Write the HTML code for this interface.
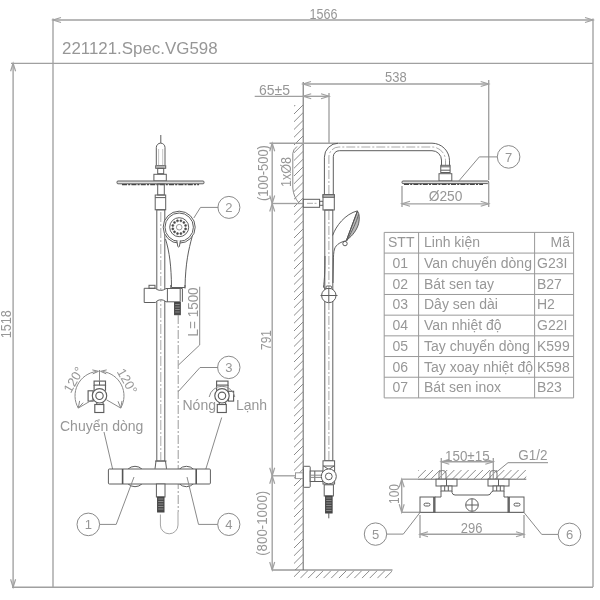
<!DOCTYPE html>
<html><head><meta charset="utf-8"><style>
html,body{margin:0;padding:0;background:#fff;width:600px;height:600px;overflow:hidden}
svg{display:block;will-change:transform}
text{font-family:"Liberation Sans", sans-serif}
</style></head><body>
<svg width="600" height="600" viewBox="0 0 600 600">
<rect width="600" height="600" fill="#fff"/>
<line x1="53.00" y1="18.50" x2="53.00" y2="587.00" stroke="#a0a0a0" stroke-width="1.35" />
<line x1="593.00" y1="18.50" x2="593.00" y2="587.00" stroke="#a0a0a0" stroke-width="1.35" />
<line x1="11.00" y1="63.30" x2="593.00" y2="63.30" stroke="#a0a0a0" stroke-width="1.35" />
<line x1="12.00" y1="587.20" x2="593.00" y2="587.20" stroke="#a0a0a0" stroke-width="1.35" />
<line x1="53.00" y1="20.00" x2="593.00" y2="20.00" stroke="#a0a0a0" stroke-width="1.35" />
<polyline points="61.00,17.50 53.00,20.00 61.00,22.50" stroke="#a0a0a0" stroke-width="1.2" fill="none" />
<polyline points="585.00,22.50 593.00,20.00 585.00,17.50" stroke="#a0a0a0" stroke-width="1.2" fill="none" />
<line x1="13.10" y1="63.30" x2="13.10" y2="587.20" stroke="#a0a0a0" stroke-width="1.35" />
<polyline points="15.60,71.30 13.10,63.30 10.60,71.30" stroke="#a0a0a0" stroke-width="1.2" fill="none" />
<polyline points="10.60,579.20 13.10,587.20 15.60,579.20" stroke="#a0a0a0" stroke-width="1.2" fill="none" />
<text x="323.50" y="18.50" font-size="14.5" text-anchor="middle" fill="#979797"  textLength="28" lengthAdjust="spacingAndGlyphs">1566</text>
<text x="11.50" y="324.20" font-size="14.5" text-anchor="middle" fill="#979797" transform="rotate(-90 11.50 324.20)"  textLength="28" lengthAdjust="spacingAndGlyphs">1518</text>
<text x="62.00" y="53.50" font-size="16.9" text-anchor="start" fill="#979797" >221121.Spec.VG598</text>
<line x1="160.80" y1="135.00" x2="160.80" y2="143.00" stroke="#5e5e5e" stroke-width="1" />
<path d="M156.3,165 L156.3,147.5 A4.35,4.35 0 0 1 165,147.5 L165,165" stroke="#5e5e5e" stroke-width="1" fill="none" />
<line x1="158.60" y1="149.00" x2="158.60" y2="165.00" stroke="#c4c4c4" stroke-width="1" />
<line x1="162.70" y1="149.00" x2="162.70" y2="165.00" stroke="#c4c4c4" stroke-width="1" />
<rect x="155.70" y="165.70" width="10.00" height="2.60" rx="0" stroke="#5e5e5e" stroke-width="1" fill="#ccc" />
<rect x="157.70" y="168.30" width="6.00" height="5.40" rx="0" stroke="#5e5e5e" stroke-width="1" fill="none" />
<rect x="153.90" y="174.30" width="12.40" height="6.70" rx="0" stroke="#5e5e5e" stroke-width="1" fill="none" />
<rect x="117.00" y="181.00" width="87.00" height="2.80" rx="1" stroke="#5e5e5e" stroke-width="1" fill="#e0e0e0" />
<line x1="122.00" y1="184.60" x2="199.00" y2="184.60" stroke="#444" stroke-width="1.3" stroke-dasharray="5 1.2 2 1.2"/>
<rect x="157.70" y="184.00" width="6.60" height="11.00" rx="0" stroke="#5e5e5e" stroke-width="1" fill="none" />
<rect x="155.20" y="195.00" width="10.50" height="14.80" rx="0" stroke="#5e5e5e" stroke-width="1" fill="none" />
<line x1="155.20" y1="197.60" x2="165.70" y2="197.60" stroke="#5e5e5e" stroke-width="1" />
<rect x="156.80" y="209.80" width="8.00" height="251.20" rx="0" stroke="#5e5e5e" stroke-width="1" fill="none" />
<line x1="160.80" y1="212.00" x2="160.80" y2="460.00" stroke="#aaa" stroke-width="1" stroke-dasharray="10 2 2 2"/>
<path d="M165.5,239 C169.5,252 171.3,266 171.5,287.5" stroke="#5e5e5e" stroke-width="1" fill="none" />
<path d="M192.3,236 C188.5,250 185.5,263 185,287.5" stroke="#5e5e5e" stroke-width="1" fill="none" />
<line x1="171.50" y1="287.50" x2="185.00" y2="287.50" stroke="#5e5e5e" stroke-width="1" />
<circle cx="179.20" cy="227.20" r="16.00" stroke="#5e5e5e" stroke-width="1" fill="#fff" />
<circle cx="179.20" cy="227.20" r="14.20" stroke="#5e5e5e" stroke-width="1" fill="none" />
<circle cx="179.20" cy="227.20" r="9.50" stroke="#5e5e5e" stroke-width="1" fill="none" />
<circle cx="185.58" cy="228.91" r="1.05" stroke="#555" stroke-width="0.6" fill="#444" />
<circle cx="183.87" cy="231.87" r="1.05" stroke="#555" stroke-width="0.6" fill="#444" />
<circle cx="180.91" cy="233.58" r="1.05" stroke="#555" stroke-width="0.6" fill="#444" />
<circle cx="177.49" cy="233.58" r="1.05" stroke="#555" stroke-width="0.6" fill="#444" />
<circle cx="174.53" cy="231.87" r="1.05" stroke="#555" stroke-width="0.6" fill="#444" />
<circle cx="172.82" cy="228.91" r="1.05" stroke="#555" stroke-width="0.6" fill="#444" />
<circle cx="172.82" cy="225.49" r="1.05" stroke="#555" stroke-width="0.6" fill="#444" />
<circle cx="174.53" cy="222.53" r="1.05" stroke="#555" stroke-width="0.6" fill="#444" />
<circle cx="177.49" cy="220.82" r="1.05" stroke="#555" stroke-width="0.6" fill="#444" />
<circle cx="180.91" cy="220.82" r="1.05" stroke="#555" stroke-width="0.6" fill="#444" />
<circle cx="183.87" cy="222.53" r="1.05" stroke="#555" stroke-width="0.6" fill="#444" />
<circle cx="185.58" cy="225.49" r="1.05" stroke="#555" stroke-width="0.6" fill="#444" />
<circle cx="179.20" cy="227.20" r="2.80" stroke="#999" stroke-width="1" fill="none" />
<path d="M176.8,240.5 L177.8,246.5 Q178.6,247.5 179.4,246.5 L180.4,240.5" stroke="#5e5e5e" stroke-width="1" fill="#fff" />
<path d="M193.8,218 L200.5,207.4 L218.4,207.4" stroke="#8a8a8a" stroke-width="1" fill="none" />
<circle cx="228.90" cy="207.40" r="11.00" stroke="#8a8a8a" stroke-width="1" fill="none" />
<text x="228.90" y="212.00" font-size="13" text-anchor="middle" fill="#979797" >2</text>
<path d="M144.2,288.3 L155.5,288.3 C158,291 163,291 166,288.5 L180.2,288.5 L180.2,301.8 L166,301.8 C163,299 158,299 155.5,302.5 L144.2,302.5 Z" stroke="#5e5e5e" stroke-width="1" fill="#fff" />
<rect x="149.00" y="285.30" width="6.00" height="3.00" rx="0" stroke="#5e5e5e" stroke-width="1" fill="none" />
<line x1="167.40" y1="288.50" x2="167.40" y2="301.80" stroke="#5e5e5e" stroke-width="1" />
<line x1="180.20" y1="288.50" x2="182.40" y2="288.50" stroke="#5e5e5e" stroke-width="1" />
<line x1="182.40" y1="288.50" x2="182.40" y2="301.80" stroke="#5e5e5e" stroke-width="1" />
<path d="M170.8,288.3 L170.8,285 M185,285 L185,288.5" stroke="#5e5e5e" stroke-width="1" fill="none" />
<rect x="174.60" y="302.50" width="5.70" height="12.20" rx="0" stroke="#444" stroke-width="1" fill="#4a4a4a" />
<line x1="175.20" y1="304.50" x2="179.70" y2="304.50" stroke="#9a9a9a" stroke-width="0.8" />
<line x1="175.20" y1="307.00" x2="179.70" y2="307.00" stroke="#9a9a9a" stroke-width="0.8" />
<line x1="175.20" y1="309.50" x2="179.70" y2="309.50" stroke="#9a9a9a" stroke-width="0.8" />
<line x1="175.20" y1="312.00" x2="179.70" y2="312.00" stroke="#9a9a9a" stroke-width="0.8" />
<path d="M178.2,315 L178.2,512" stroke="#9a9a9a" stroke-width="1" fill="none" stroke-dasharray="9 2 2 2"/>
<path d="M178,512 L178,525 A8.8,8.8 0 0 1 160.4,525 L160.4,514.5" stroke="#a5a5a5" stroke-width="1" fill="none" />
<path d="M199.7,286.7 L199.7,345 L178.5,365" stroke="#8a8a8a" stroke-width="1" fill="none" />
<text x="198.50" y="311.90" font-size="14.5" text-anchor="middle" fill="#979797" transform="rotate(-90 198.50 311.90)"  textLength="49" lengthAdjust="spacingAndGlyphs">L= 1500</text>
<path d="M178.2,391.7 L200,367.5 L218.2,367.5" stroke="#8a8a8a" stroke-width="1" fill="none" />
<circle cx="228.80" cy="367.40" r="11.20" stroke="#8a8a8a" stroke-width="1" fill="none" />
<text x="228.80" y="372.00" font-size="13" text-anchor="middle" fill="#979797" >3</text>
<rect x="94.10" y="381.10" width="11.40" height="4.00" rx="0" stroke="#5e5e5e" stroke-width="1.15" fill="#fff" />
<path d="M94.1,385.1 L94.1,390.8 M105.5,385.1 L105.5,390.8" stroke="#5e5e5e" stroke-width="1.15" fill="none" />
<rect x="88.10" y="390.80" width="5.00" height="10.30" rx="0" stroke="#5e5e5e" stroke-width="1.15" fill="#fff" />
<rect x="94.80" y="404.50" width="9.00" height="8.00" rx="0" stroke="#5e5e5e" stroke-width="1.15" fill="#fff" />
<line x1="96.80" y1="402.30" x2="96.80" y2="404.50" stroke="#5e5e5e" stroke-width="1.15" />
<line x1="103.10" y1="402.30" x2="103.10" y2="404.50" stroke="#5e5e5e" stroke-width="1.15" />
<circle cx="99.50" cy="395.80" r="7.20" stroke="#5e5e5e" stroke-width="1.15" fill="#fff" />
<circle cx="99.50" cy="395.80" r="3.70" stroke="#5e5e5e" stroke-width="1.15" fill="none" />
<rect x="216.60" y="381.10" width="11.40" height="4.00" rx="0" stroke="#5e5e5e" stroke-width="1.15" fill="#fff" />
<path d="M216.6,385.1 L216.6,390.8 M228,385.1 L228,390.8" stroke="#5e5e5e" stroke-width="1.15" fill="none" />
<rect x="228.40" y="391.30" width="5.20" height="9.80" rx="0" stroke="#5e5e5e" stroke-width="1.15" fill="#fff" />
<rect x="217.30" y="404.50" width="9.00" height="8.00" rx="0" stroke="#5e5e5e" stroke-width="1.15" fill="#fff" />
<line x1="219.30" y1="402.30" x2="219.30" y2="404.50" stroke="#5e5e5e" stroke-width="1.15" />
<line x1="225.60" y1="402.30" x2="225.60" y2="404.50" stroke="#5e5e5e" stroke-width="1.15" />
<circle cx="222.00" cy="395.80" r="7.20" stroke="#5e5e5e" stroke-width="1.15" fill="#fff" />
<circle cx="222.00" cy="395.80" r="3.70" stroke="#5e5e5e" stroke-width="1.15" fill="none" />
<line x1="99.50" y1="370.00" x2="99.50" y2="381.30" stroke="#8a8a8a" stroke-width="1" />
<line x1="99.50" y1="381.30" x2="99.50" y2="385.30" stroke="#5e5e5e" stroke-width="1" />
<path d="M78.28,408.05 A24.5,24.5 0 0 1 96.50,371.50" stroke="#8a8a8a" stroke-width="1" fill="none" />
<path d="M102.50,371.50 A24.5,24.5 0 0 1 120.72,408.05" stroke="#8a8a8a" stroke-width="1" fill="none" />
<polyline points="79.62,400.89 78.28,408.05 83.20,402.68" stroke="#8a8a8a" stroke-width="1" fill="none" />
<polyline points="118.03,401.28 120.72,408.05 122.01,400.89" stroke="#8a8a8a" stroke-width="1" fill="none" />
<polyline points="92.73,373.89 98.50,371.30 92.33,369.91" stroke="#8a8a8a" stroke-width="1" fill="none" />
<polyline points="106.67,369.91 100.50,371.30 106.27,373.89" stroke="#8a8a8a" stroke-width="1" fill="none" />
<line x1="92.50" y1="399.80" x2="78.28" y2="408.05" stroke="#8a8a8a" stroke-width="1" />
<line x1="106.50" y1="399.80" x2="120.72" y2="408.05" stroke="#8a8a8a" stroke-width="1" />
<text x="77.50" y="382.00" font-size="13" text-anchor="middle" fill="#979797" transform="rotate(-60 77.50 382.00)" >120°</text>
<text x="123.30" y="383.50" font-size="13" text-anchor="middle" fill="#979797" transform="rotate(60 123.30 383.50)" >120°</text>
<path d="M209.2,397 A13,13 0 0 1 234.8,397" stroke="#8a8a8a" stroke-width="1" fill="none" />
<text x="60.00" y="430.80" font-size="14" text-anchor="start" fill="#979797" >Chuyển dòng</text>
<text x="182.50" y="409.70" font-size="14" text-anchor="start" fill="#979797" >Nóng</text>
<text x="236.00" y="409.70" font-size="14" text-anchor="start" fill="#979797" >Lạnh</text>
<line x1="104.00" y1="432.00" x2="114.00" y2="475.00" stroke="#8a8a8a" stroke-width="1" />
<line x1="221.70" y1="417.50" x2="204.00" y2="475.00" stroke="#8a8a8a" stroke-width="1" />
<circle cx="135.00" cy="476.50" r="10.20" stroke="#5e5e5e" stroke-width="1" fill="#fff" />
<circle cx="186.40" cy="476.50" r="10.20" stroke="#5e5e5e" stroke-width="1" fill="#fff" />
<rect x="108.40" y="469.00" width="102.00" height="15.00" rx="1" stroke="#5e5e5e" stroke-width="1" fill="#fff" />
<line x1="122.60" y1="469.00" x2="122.60" y2="484.00" stroke="#555" stroke-width="1.6" />
<line x1="196.20" y1="469.00" x2="196.20" y2="484.00" stroke="#555" stroke-width="1.6" />
<path d="M156,461 L155,468.8 M165.5,461 L166.5,468.8" stroke="#5e5e5e" stroke-width="1" fill="none" />
<line x1="155.00" y1="461.00" x2="166.50" y2="461.00" stroke="#5e5e5e" stroke-width="1" />
<rect x="156.40" y="484.00" width="8.60" height="13.00" rx="0" stroke="#5e5e5e" stroke-width="1" fill="#fff" />
<rect x="157.60" y="497.00" width="6.40" height="15.00" rx="0" stroke="#444" stroke-width="1" fill="#4a4a4a" />
<line x1="158.20" y1="499.00" x2="163.40" y2="499.00" stroke="#9a9a9a" stroke-width="0.8" />
<line x1="158.20" y1="501.50" x2="163.40" y2="501.50" stroke="#9a9a9a" stroke-width="0.8" />
<line x1="158.20" y1="504.00" x2="163.40" y2="504.00" stroke="#9a9a9a" stroke-width="0.8" />
<line x1="158.20" y1="506.50" x2="163.40" y2="506.50" stroke="#9a9a9a" stroke-width="0.8" />
<line x1="158.20" y1="509.00" x2="163.40" y2="509.00" stroke="#9a9a9a" stroke-width="0.8" />
<path d="M134,477 L116.2,524.4 L99.6,524.4" stroke="#8a8a8a" stroke-width="1" fill="none" />
<circle cx="88.30" cy="524.40" r="11.30" stroke="#8a8a8a" stroke-width="1" fill="none" />
<text x="88.30" y="529.00" font-size="13" text-anchor="middle" fill="#979797" >1</text>
<path d="M187,477 L198.5,524.4 L217.7,524.4" stroke="#8a8a8a" stroke-width="1" fill="none" />
<circle cx="228.80" cy="524.40" r="11.10" stroke="#8a8a8a" stroke-width="1" fill="none" />
<text x="228.80" y="529.00" font-size="13" text-anchor="middle" fill="#979797" >4</text>
<line x1="303.20" y1="82.00" x2="303.20" y2="570.00" stroke="#666" stroke-width="1" />
<line x1="303.00" y1="84.00" x2="488.70" y2="84.00" stroke="#a0a0a0" stroke-width="1.35" />
<polyline points="311.00,81.50 303.00,84.00 311.00,86.50" stroke="#a0a0a0" stroke-width="1.2" fill="none" />
<polyline points="480.70,86.50 488.70,84.00 480.70,81.50" stroke="#a0a0a0" stroke-width="1.2" fill="none" />
<text x="395.90" y="82.40" font-size="14.5" text-anchor="middle" fill="#979797"  textLength="21.6" lengthAdjust="spacingAndGlyphs">538</text>
<line x1="488.70" y1="80.00" x2="488.70" y2="180.00" stroke="#a0a0a0" stroke-width="1.35" />
<line x1="254.70" y1="96.30" x2="303.20" y2="96.30" stroke="#a0a0a0" stroke-width="1.35" />
<line x1="303.20" y1="96.30" x2="329.00" y2="96.30" stroke="#a0a0a0" stroke-width="1.35" />
<polyline points="311.20,93.80 303.20,96.30 311.20,98.80" stroke="#a0a0a0" stroke-width="1.2" fill="none" />
<polyline points="321.00,98.80 329.00,96.30 321.00,93.80" stroke="#a0a0a0" stroke-width="1.2" fill="none" />
<line x1="329.00" y1="93.00" x2="329.00" y2="143.20" stroke="#a0a0a0" stroke-width="1.35" />
<text x="274.50" y="94.70" font-size="14.5" text-anchor="middle" fill="#979797"  textLength="31" lengthAdjust="spacingAndGlyphs">65±5</text>
<clipPath id="hc1"><rect x="294" y="105" width="9" height="465"/></clipPath><g clip-path="url(#hc1)">
<line x1="-177.50" y1="570.00" x2="287.50" y2="105.00" stroke="#8c8c8c" stroke-width="1"/>
<line x1="-169.75" y1="570.00" x2="295.25" y2="105.00" stroke="#8c8c8c" stroke-width="1"/>
<line x1="-162.00" y1="570.00" x2="303.00" y2="105.00" stroke="#8c8c8c" stroke-width="1"/>
<line x1="-154.25" y1="570.00" x2="310.75" y2="105.00" stroke="#8c8c8c" stroke-width="1"/>
<line x1="-146.50" y1="570.00" x2="318.50" y2="105.00" stroke="#8c8c8c" stroke-width="1"/>
<line x1="-138.75" y1="570.00" x2="326.25" y2="105.00" stroke="#8c8c8c" stroke-width="1"/>
<line x1="-131.00" y1="570.00" x2="334.00" y2="105.00" stroke="#8c8c8c" stroke-width="1"/>
<line x1="-123.25" y1="570.00" x2="341.75" y2="105.00" stroke="#8c8c8c" stroke-width="1"/>
<line x1="-115.50" y1="570.00" x2="349.50" y2="105.00" stroke="#8c8c8c" stroke-width="1"/>
<line x1="-107.75" y1="570.00" x2="357.25" y2="105.00" stroke="#8c8c8c" stroke-width="1"/>
<line x1="-100.00" y1="570.00" x2="365.00" y2="105.00" stroke="#8c8c8c" stroke-width="1"/>
<line x1="-92.25" y1="570.00" x2="372.75" y2="105.00" stroke="#8c8c8c" stroke-width="1"/>
<line x1="-84.50" y1="570.00" x2="380.50" y2="105.00" stroke="#8c8c8c" stroke-width="1"/>
<line x1="-76.75" y1="570.00" x2="388.25" y2="105.00" stroke="#8c8c8c" stroke-width="1"/>
<line x1="-69.00" y1="570.00" x2="396.00" y2="105.00" stroke="#8c8c8c" stroke-width="1"/>
<line x1="-61.25" y1="570.00" x2="403.75" y2="105.00" stroke="#8c8c8c" stroke-width="1"/>
<line x1="-53.50" y1="570.00" x2="411.50" y2="105.00" stroke="#8c8c8c" stroke-width="1"/>
<line x1="-45.75" y1="570.00" x2="419.25" y2="105.00" stroke="#8c8c8c" stroke-width="1"/>
<line x1="-38.00" y1="570.00" x2="427.00" y2="105.00" stroke="#8c8c8c" stroke-width="1"/>
<line x1="-30.25" y1="570.00" x2="434.75" y2="105.00" stroke="#8c8c8c" stroke-width="1"/>
<line x1="-22.50" y1="570.00" x2="442.50" y2="105.00" stroke="#8c8c8c" stroke-width="1"/>
<line x1="-14.75" y1="570.00" x2="450.25" y2="105.00" stroke="#8c8c8c" stroke-width="1"/>
<line x1="-7.00" y1="570.00" x2="458.00" y2="105.00" stroke="#8c8c8c" stroke-width="1"/>
<line x1="0.75" y1="570.00" x2="465.75" y2="105.00" stroke="#8c8c8c" stroke-width="1"/>
<line x1="8.50" y1="570.00" x2="473.50" y2="105.00" stroke="#8c8c8c" stroke-width="1"/>
<line x1="16.25" y1="570.00" x2="481.25" y2="105.00" stroke="#8c8c8c" stroke-width="1"/>
<line x1="24.00" y1="570.00" x2="489.00" y2="105.00" stroke="#8c8c8c" stroke-width="1"/>
<line x1="31.75" y1="570.00" x2="496.75" y2="105.00" stroke="#8c8c8c" stroke-width="1"/>
<line x1="39.50" y1="570.00" x2="504.50" y2="105.00" stroke="#8c8c8c" stroke-width="1"/>
<line x1="47.25" y1="570.00" x2="512.25" y2="105.00" stroke="#8c8c8c" stroke-width="1"/>
<line x1="55.00" y1="570.00" x2="520.00" y2="105.00" stroke="#8c8c8c" stroke-width="1"/>
<line x1="62.75" y1="570.00" x2="527.75" y2="105.00" stroke="#8c8c8c" stroke-width="1"/>
<line x1="70.50" y1="570.00" x2="535.50" y2="105.00" stroke="#8c8c8c" stroke-width="1"/>
<line x1="78.25" y1="570.00" x2="543.25" y2="105.00" stroke="#8c8c8c" stroke-width="1"/>
<line x1="86.00" y1="570.00" x2="551.00" y2="105.00" stroke="#8c8c8c" stroke-width="1"/>
<line x1="93.75" y1="570.00" x2="558.75" y2="105.00" stroke="#8c8c8c" stroke-width="1"/>
<line x1="101.50" y1="570.00" x2="566.50" y2="105.00" stroke="#8c8c8c" stroke-width="1"/>
<line x1="109.25" y1="570.00" x2="574.25" y2="105.00" stroke="#8c8c8c" stroke-width="1"/>
<line x1="117.00" y1="570.00" x2="582.00" y2="105.00" stroke="#8c8c8c" stroke-width="1"/>
<line x1="124.75" y1="570.00" x2="589.75" y2="105.00" stroke="#8c8c8c" stroke-width="1"/>
<line x1="132.50" y1="570.00" x2="597.50" y2="105.00" stroke="#8c8c8c" stroke-width="1"/>
<line x1="140.25" y1="570.00" x2="605.25" y2="105.00" stroke="#8c8c8c" stroke-width="1"/>
<line x1="148.00" y1="570.00" x2="613.00" y2="105.00" stroke="#8c8c8c" stroke-width="1"/>
<line x1="155.75" y1="570.00" x2="620.75" y2="105.00" stroke="#8c8c8c" stroke-width="1"/>
<line x1="163.50" y1="570.00" x2="628.50" y2="105.00" stroke="#8c8c8c" stroke-width="1"/>
<line x1="171.25" y1="570.00" x2="636.25" y2="105.00" stroke="#8c8c8c" stroke-width="1"/>
<line x1="179.00" y1="570.00" x2="644.00" y2="105.00" stroke="#8c8c8c" stroke-width="1"/>
<line x1="186.75" y1="570.00" x2="651.75" y2="105.00" stroke="#8c8c8c" stroke-width="1"/>
<line x1="194.50" y1="570.00" x2="659.50" y2="105.00" stroke="#8c8c8c" stroke-width="1"/>
<line x1="202.25" y1="570.00" x2="667.25" y2="105.00" stroke="#8c8c8c" stroke-width="1"/>
<line x1="210.00" y1="570.00" x2="675.00" y2="105.00" stroke="#8c8c8c" stroke-width="1"/>
<line x1="217.75" y1="570.00" x2="682.75" y2="105.00" stroke="#8c8c8c" stroke-width="1"/>
<line x1="225.50" y1="570.00" x2="690.50" y2="105.00" stroke="#8c8c8c" stroke-width="1"/>
<line x1="233.25" y1="570.00" x2="698.25" y2="105.00" stroke="#8c8c8c" stroke-width="1"/>
<line x1="241.00" y1="570.00" x2="706.00" y2="105.00" stroke="#8c8c8c" stroke-width="1"/>
<line x1="248.75" y1="570.00" x2="713.75" y2="105.00" stroke="#8c8c8c" stroke-width="1"/>
<line x1="256.50" y1="570.00" x2="721.50" y2="105.00" stroke="#8c8c8c" stroke-width="1"/>
<line x1="264.25" y1="570.00" x2="729.25" y2="105.00" stroke="#8c8c8c" stroke-width="1"/>
<line x1="272.00" y1="570.00" x2="737.00" y2="105.00" stroke="#8c8c8c" stroke-width="1"/>
<line x1="279.75" y1="570.00" x2="744.75" y2="105.00" stroke="#8c8c8c" stroke-width="1"/>
<line x1="287.50" y1="570.00" x2="752.50" y2="105.00" stroke="#8c8c8c" stroke-width="1"/>
<line x1="295.25" y1="570.00" x2="760.25" y2="105.00" stroke="#8c8c8c" stroke-width="1"/>
<line x1="303.00" y1="570.00" x2="768.00" y2="105.00" stroke="#8c8c8c" stroke-width="1"/>
<line x1="310.75" y1="570.00" x2="775.75" y2="105.00" stroke="#8c8c8c" stroke-width="1"/>
</g>
<line x1="272.00" y1="570.00" x2="392.50" y2="570.00" stroke="#666" stroke-width="1" />
<clipPath id="hc2"><rect x="294" y="570.5" width="98" height="7.7999999999999545"/></clipPath><g clip-path="url(#hc2)">
<line x1="284.80" y1="578.30" x2="292.60" y2="570.50" stroke="#8c8c8c" stroke-width="1"/>
<line x1="292.50" y1="578.30" x2="300.30" y2="570.50" stroke="#8c8c8c" stroke-width="1"/>
<line x1="300.20" y1="578.30" x2="308.00" y2="570.50" stroke="#8c8c8c" stroke-width="1"/>
<line x1="307.90" y1="578.30" x2="315.70" y2="570.50" stroke="#8c8c8c" stroke-width="1"/>
<line x1="315.60" y1="578.30" x2="323.40" y2="570.50" stroke="#8c8c8c" stroke-width="1"/>
<line x1="323.30" y1="578.30" x2="331.10" y2="570.50" stroke="#8c8c8c" stroke-width="1"/>
<line x1="331.00" y1="578.30" x2="338.80" y2="570.50" stroke="#8c8c8c" stroke-width="1"/>
<line x1="338.70" y1="578.30" x2="346.50" y2="570.50" stroke="#8c8c8c" stroke-width="1"/>
<line x1="346.40" y1="578.30" x2="354.20" y2="570.50" stroke="#8c8c8c" stroke-width="1"/>
<line x1="354.10" y1="578.30" x2="361.90" y2="570.50" stroke="#8c8c8c" stroke-width="1"/>
<line x1="361.80" y1="578.30" x2="369.60" y2="570.50" stroke="#8c8c8c" stroke-width="1"/>
<line x1="369.50" y1="578.30" x2="377.30" y2="570.50" stroke="#8c8c8c" stroke-width="1"/>
<line x1="377.20" y1="578.30" x2="385.00" y2="570.50" stroke="#8c8c8c" stroke-width="1"/>
<line x1="384.90" y1="578.30" x2="392.70" y2="570.50" stroke="#8c8c8c" stroke-width="1"/>
<line x1="392.60" y1="578.30" x2="400.40" y2="570.50" stroke="#8c8c8c" stroke-width="1"/>
</g>
<line x1="269.50" y1="143.20" x2="338.00" y2="143.20" stroke="#a0a0a0" stroke-width="1.35" />
<line x1="272.00" y1="203.50" x2="303.20" y2="203.50" stroke="#a0a0a0" stroke-width="1.35" />
<line x1="272.00" y1="475.80" x2="303.20" y2="475.80" stroke="#a0a0a0" stroke-width="1.35" />
<line x1="272.20" y1="143.20" x2="272.20" y2="570.00" stroke="#a0a0a0" stroke-width="1.35" />
<polyline points="274.70,151.20 272.20,143.20 269.70,151.20" stroke="#a0a0a0" stroke-width="1.2" fill="none" />
<polyline points="269.70,195.50 272.20,203.50 274.70,195.50" stroke="#a0a0a0" stroke-width="1.2" fill="none" />
<polyline points="274.70,211.50 272.20,203.50 269.70,211.50" stroke="#a0a0a0" stroke-width="1.2" fill="none" />
<polyline points="269.70,467.80 272.20,475.80 274.70,467.80" stroke="#a0a0a0" stroke-width="1.2" fill="none" />
<polyline points="274.70,483.80 272.20,475.80 269.70,483.80" stroke="#a0a0a0" stroke-width="1.2" fill="none" />
<polyline points="269.70,562.00 272.20,570.00 274.70,562.00" stroke="#a0a0a0" stroke-width="1.2" fill="none" />
<text x="267.60" y="173.10" font-size="14.5" text-anchor="middle" fill="#979797" transform="rotate(-90 267.60 173.10)"  textLength="56" lengthAdjust="spacingAndGlyphs">(100-500)</text>
<text x="290.50" y="172.00" font-size="14.5" text-anchor="middle" fill="#979797" transform="rotate(-90 290.50 172.00)"  textLength="30" lengthAdjust="spacingAndGlyphs">1xØ8</text>
<text x="271.30" y="340.00" font-size="14.5" text-anchor="middle" fill="#979797" transform="rotate(-90 271.30 340.00)"  textLength="20" lengthAdjust="spacingAndGlyphs">791</text>
<text x="267.40" y="523.30" font-size="14.5" text-anchor="middle" fill="#979797" transform="rotate(-90 267.40 523.30)"  textLength="65" lengthAdjust="spacingAndGlyphs">(800-1000)</text>
<path d="M297,146.5 Q293,149.5 292.8,153.5 L292.8,188 Q293.5,197 299,203" stroke="#888" stroke-width="1" fill="none" />
<path d="M324.4,194 L324.4,157.2 A14,14 0 0 1 338.4,143.2 L432,143.2 A17.5,17.5 0 0 1 449.5,160.7 L449.5,166" stroke="#5e5e5e" stroke-width="1" fill="none" />
<path d="M333.3,194 L333.3,156.7 A6,6 0 0 1 339.3,150.7 L432,150.7 A9.5,9.5 0 0 1 441.5,160.2 L441.5,166" stroke="#5e5e5e" stroke-width="1" fill="none" />
<path d="M328.9,194 L328.9,157 A10,10 0 0 1 338.9,147 L432,147 A13.5,13.5 0 0 1 445.5,160.5 L445.5,166" stroke="#aaa" stroke-width="1" fill="none" stroke-dasharray="9 2 2 2"/>
<rect x="440.75" y="165.30" width="9.35" height="7.20" rx="0" stroke="#5e5e5e" stroke-width="1" fill="#fff" />
<line x1="440.75" y1="166.80" x2="450.10" y2="166.80" stroke="#5e5e5e" stroke-width="1" />
<line x1="440.75" y1="170.20" x2="450.10" y2="170.20" stroke="#5e5e5e" stroke-width="1" />
<line x1="449.50" y1="160.70" x2="449.50" y2="165.30" stroke="#5e5e5e" stroke-width="1" />
<line x1="441.50" y1="160.20" x2="441.50" y2="165.30" stroke="#5e5e5e" stroke-width="1" />
<rect x="439.00" y="173.70" width="12.80" height="7.30" rx="0" stroke="#5e5e5e" stroke-width="1" fill="none" />
<rect x="402.00" y="181.00" width="86.70" height="2.60" rx="1" stroke="#5e5e5e" stroke-width="1" fill="#e0e0e0" />
<line x1="404.00" y1="184.40" x2="483.00" y2="184.40" stroke="#444" stroke-width="1.3" stroke-dasharray="5 1.2 2 1.2"/>
<line x1="402.00" y1="186.00" x2="402.00" y2="207.00" stroke="#a0a0a0" stroke-width="1.35" />
<line x1="488.70" y1="183.00" x2="488.70" y2="207.00" stroke="#a0a0a0" stroke-width="1.35" />
<line x1="402.00" y1="203.80" x2="488.70" y2="203.80" stroke="#a0a0a0" stroke-width="1.35" />
<polyline points="410.00,201.30 402.00,203.80 410.00,206.30" stroke="#a0a0a0" stroke-width="1.2" fill="none" />
<polyline points="480.70,206.30 488.70,203.80 480.70,201.30" stroke="#a0a0a0" stroke-width="1.2" fill="none" />
<text x="445.60" y="200.50" font-size="14.5" text-anchor="middle" fill="#979797"  textLength="33.7" lengthAdjust="spacingAndGlyphs">Ø250</text>
<path d="M458.8,181 L479.3,156.9 L497.3,156.9" stroke="#8a8a8a" stroke-width="1" fill="none" />
<circle cx="508.60" cy="156.90" r="11.30" stroke="#8a8a8a" stroke-width="1" fill="none" />
<text x="508.60" y="161.50" font-size="13" text-anchor="middle" fill="#979797" >7</text>
<rect x="303.30" y="199.30" width="16.30" height="8.00" rx="0" stroke="#5e5e5e" stroke-width="1" fill="#fff" />
<line x1="307.00" y1="203.30" x2="317.00" y2="203.30" stroke="#aaa" stroke-width="1" stroke-dasharray="6 1.5 2 1.5"/>
<rect x="319.60" y="201.30" width="3.70" height="4.00" rx="0" stroke="#5e5e5e" stroke-width="1" fill="none" />
<rect x="323.00" y="194.70" width="11.30" height="15.30" rx="0" stroke="#5e5e5e" stroke-width="1" fill="#fff" />
<rect x="323.00" y="194.70" width="11.30" height="2.60" rx="0" stroke="#5e5e5e" stroke-width="1" fill="#bbb" />
<rect x="324.80" y="210.00" width="8.00" height="250.80" rx="0" stroke="#5e5e5e" stroke-width="1" fill="none" />
<line x1="328.90" y1="211.00" x2="328.90" y2="460.00" stroke="#aaa" stroke-width="1" stroke-dasharray="9 2 2 2"/>
<path d="M332.6,235.5 C336,226 345,214 357.6,210.8" stroke="#5e5e5e" stroke-width="1" fill="none" />
<path d="M357.4,211 C359.6,213.5 359.6,219 358.7,223.2 C357.6,228 354,234 349.2,238 L346.4,240.5 Z" stroke="#5e5e5e" stroke-width="1" fill="#b8b8b8" />
<line x1="357.40" y1="211.20" x2="346.60" y2="240.00" stroke="#555" stroke-width="1" />
<path d="M358.6,214.5 C356.5,222 352,231 347.8,239" stroke="#666" stroke-width="1" fill="none" />
<path d="M347.5,240.5 C341,241.5 336,244.5 334.5,249 C333.6,252 333.4,256 333.4,262 L333,283" stroke="#5e5e5e" stroke-width="1" fill="none" />
<path d="M325,256 C325,270 324.5,280 323.5,287 Q324.5,289 326,289" stroke="#5e5e5e" stroke-width="1" fill="none" />
<circle cx="345.00" cy="243.60" r="2.20" stroke="#5e5e5e" stroke-width="1" fill="none" />
<circle cx="328.80" cy="295.50" r="7.20" stroke="#5e5e5e" stroke-width="1" fill="#fff" />
<line x1="320.50" y1="295.50" x2="337.50" y2="295.50" stroke="#5e5e5e" stroke-width="1" />
<line x1="328.80" y1="288.00" x2="328.80" y2="302.00" stroke="#5e5e5e" stroke-width="1" />
<rect x="326.00" y="286.00" width="5.50" height="2.50" rx="1" stroke="#5e5e5e" stroke-width="1" fill="none" />
<rect x="295.50" y="472.80" width="7.50" height="5.80" rx="0" stroke="#999" stroke-width="1" fill="#fff" />
<rect x="303.40" y="466.30" width="6.80" height="21.00" rx="0.8" stroke="#5e5e5e" stroke-width="1" fill="#fff" />
<rect x="310.20" y="471.00" width="12.80" height="10.50" rx="0" stroke="#5e5e5e" stroke-width="1" fill="#fff" />
<line x1="314.80" y1="471.00" x2="314.80" y2="481.50" stroke="#5e5e5e" stroke-width="1" />
<line x1="310.20" y1="475.20" x2="323.00" y2="475.20" stroke="#888" stroke-width="1" />
<line x1="310.20" y1="477.40" x2="323.00" y2="477.40" stroke="#888" stroke-width="1" />
<rect x="323.00" y="460.80" width="11.60" height="23.20" rx="0" stroke="#5e5e5e" stroke-width="1" fill="#fff" />
<line x1="323.00" y1="466.00" x2="334.60" y2="466.00" stroke="#5e5e5e" stroke-width="1" />
<path d="M323.5,466 L328.8,469.5 L334,466" stroke="#5e5e5e" stroke-width="1" fill="none" />
<circle cx="328.80" cy="476.40" r="7.50" stroke="#5e5e5e" stroke-width="1" fill="#fff" />
<circle cx="328.80" cy="476.40" r="3.40" stroke="#5e5e5e" stroke-width="1" fill="none" />
<rect x="324.20" y="484.80" width="9.20" height="11.20" rx="0" stroke="#5e5e5e" stroke-width="1" fill="#fff" />
<rect x="325.60" y="496.00" width="6.50" height="17.00" rx="0" stroke="#444" stroke-width="1" fill="#4a4a4a" />
<line x1="326.20" y1="498.00" x2="331.50" y2="498.00" stroke="#9a9a9a" stroke-width="0.8" />
<line x1="326.20" y1="500.50" x2="331.50" y2="500.50" stroke="#9a9a9a" stroke-width="0.8" />
<line x1="326.20" y1="503.00" x2="331.50" y2="503.00" stroke="#9a9a9a" stroke-width="0.8" />
<line x1="326.20" y1="505.50" x2="331.50" y2="505.50" stroke="#9a9a9a" stroke-width="0.8" />
<line x1="326.20" y1="508.00" x2="331.50" y2="508.00" stroke="#9a9a9a" stroke-width="0.8" />
<line x1="326.20" y1="510.50" x2="331.50" y2="510.50" stroke="#9a9a9a" stroke-width="0.8" />
<line x1="328.80" y1="513.00" x2="328.80" y2="518.30" stroke="#5e5e5e" stroke-width="1" />
<line x1="384.20" y1="232.40" x2="573.60" y2="232.40" stroke="#999" stroke-width="1" />
<line x1="384.20" y1="253.09" x2="573.60" y2="253.09" stroke="#999" stroke-width="1" />
<line x1="384.20" y1="273.78" x2="573.60" y2="273.78" stroke="#999" stroke-width="1" />
<line x1="384.20" y1="294.47" x2="573.60" y2="294.47" stroke="#999" stroke-width="1" />
<line x1="384.20" y1="315.16" x2="573.60" y2="315.16" stroke="#999" stroke-width="1" />
<line x1="384.20" y1="335.85" x2="573.60" y2="335.85" stroke="#999" stroke-width="1" />
<line x1="384.20" y1="356.54" x2="573.60" y2="356.54" stroke="#999" stroke-width="1" />
<line x1="384.20" y1="377.23" x2="573.60" y2="377.23" stroke="#999" stroke-width="1" />
<line x1="384.20" y1="397.92" x2="573.60" y2="397.92" stroke="#999" stroke-width="1" />
<line x1="384.20" y1="232.40" x2="384.20" y2="397.92" stroke="#999" stroke-width="1" />
<line x1="418.60" y1="232.40" x2="418.60" y2="397.92" stroke="#999" stroke-width="1" />
<line x1="534.60" y1="232.40" x2="534.60" y2="397.92" stroke="#999" stroke-width="1" />
<line x1="573.60" y1="232.40" x2="573.60" y2="397.92" stroke="#999" stroke-width="1" />
<text x="388.00" y="247.40" font-size="14" text-anchor="start" fill="#979797" >STT</text>
<text x="424.00" y="247.40" font-size="14" text-anchor="start" fill="#979797" >Linh kiện</text>
<text x="570.00" y="247.40" font-size="14" text-anchor="end" fill="#979797" >Mã</text>
<text x="392.50" y="268.09" font-size="14" text-anchor="start" fill="#979797" >01</text>
<text x="424.00" y="268.09" font-size="14" text-anchor="start" fill="#979797" >Van chuyển dòng</text>
<text x="537.00" y="268.09" font-size="14" text-anchor="start" fill="#979797" >G23I</text>
<text x="392.50" y="288.78" font-size="14" text-anchor="start" fill="#979797" >02</text>
<text x="424.00" y="288.78" font-size="14" text-anchor="start" fill="#979797" >Bát sen tay</text>
<text x="537.00" y="288.78" font-size="14" text-anchor="start" fill="#979797" >B27</text>
<text x="392.50" y="309.47" font-size="14" text-anchor="start" fill="#979797" >03</text>
<text x="424.00" y="309.47" font-size="14" text-anchor="start" fill="#979797" >Dây sen dài</text>
<text x="537.00" y="309.47" font-size="14" text-anchor="start" fill="#979797" >H2</text>
<text x="392.50" y="330.16" font-size="14" text-anchor="start" fill="#979797" >04</text>
<text x="424.00" y="330.16" font-size="14" text-anchor="start" fill="#979797" >Van nhiệt độ</text>
<text x="537.00" y="330.16" font-size="14" text-anchor="start" fill="#979797" >G22I</text>
<text x="392.50" y="350.85" font-size="14" text-anchor="start" fill="#979797" >05</text>
<text x="424.00" y="350.85" font-size="14" text-anchor="start" fill="#979797" >Tay chuyển dòng</text>
<text x="537.00" y="350.85" font-size="14" text-anchor="start" fill="#979797" >K599</text>
<text x="392.50" y="371.54" font-size="14" text-anchor="start" fill="#979797" >06</text>
<text x="424.00" y="371.54" font-size="14" text-anchor="start" fill="#979797" >Tay xoay nhiệt độ</text>
<text x="537.00" y="371.54" font-size="14" text-anchor="start" fill="#979797" >K598</text>
<text x="392.50" y="392.23" font-size="14" text-anchor="start" fill="#979797" >07</text>
<text x="424.00" y="392.23" font-size="14" text-anchor="start" fill="#979797" >Bát sen inox</text>
<text x="537.00" y="392.23" font-size="14" text-anchor="start" fill="#979797" >B23</text>
<line x1="418.00" y1="479.20" x2="526.30" y2="479.20" stroke="#666" stroke-width="1" />
<clipPath id="hc3"><rect x="418" y="470" width="108.29999999999995" height="9"/></clipPath><g clip-path="url(#hc3)">
<line x1="402.52" y1="479.00" x2="411.52" y2="470.00" stroke="#8c8c8c" stroke-width="1"/>
<line x1="409.66" y1="479.00" x2="418.66" y2="470.00" stroke="#8c8c8c" stroke-width="1"/>
<line x1="416.80" y1="479.00" x2="425.80" y2="470.00" stroke="#8c8c8c" stroke-width="1"/>
<line x1="423.94" y1="479.00" x2="432.94" y2="470.00" stroke="#8c8c8c" stroke-width="1"/>
<line x1="431.08" y1="479.00" x2="440.08" y2="470.00" stroke="#8c8c8c" stroke-width="1"/>
<line x1="438.22" y1="479.00" x2="447.22" y2="470.00" stroke="#8c8c8c" stroke-width="1"/>
<line x1="445.36" y1="479.00" x2="454.36" y2="470.00" stroke="#8c8c8c" stroke-width="1"/>
<line x1="452.50" y1="479.00" x2="461.50" y2="470.00" stroke="#8c8c8c" stroke-width="1"/>
<line x1="459.64" y1="479.00" x2="468.64" y2="470.00" stroke="#8c8c8c" stroke-width="1"/>
<line x1="466.78" y1="479.00" x2="475.78" y2="470.00" stroke="#8c8c8c" stroke-width="1"/>
<line x1="473.92" y1="479.00" x2="482.92" y2="470.00" stroke="#8c8c8c" stroke-width="1"/>
<line x1="481.06" y1="479.00" x2="490.06" y2="470.00" stroke="#8c8c8c" stroke-width="1"/>
<line x1="488.20" y1="479.00" x2="497.20" y2="470.00" stroke="#8c8c8c" stroke-width="1"/>
<line x1="495.34" y1="479.00" x2="504.34" y2="470.00" stroke="#8c8c8c" stroke-width="1"/>
<line x1="502.48" y1="479.00" x2="511.48" y2="470.00" stroke="#8c8c8c" stroke-width="1"/>
<line x1="509.62" y1="479.00" x2="518.62" y2="470.00" stroke="#8c8c8c" stroke-width="1"/>
<line x1="516.76" y1="479.00" x2="525.76" y2="470.00" stroke="#8c8c8c" stroke-width="1"/>
<line x1="523.90" y1="479.00" x2="532.90" y2="470.00" stroke="#8c8c8c" stroke-width="1"/>
<line x1="531.04" y1="479.00" x2="540.04" y2="470.00" stroke="#8c8c8c" stroke-width="1"/>
</g>
<line x1="401.70" y1="479.20" x2="418.00" y2="479.20" stroke="#a0a0a0" stroke-width="1.35" />
<line x1="401.70" y1="512.30" x2="420.00" y2="512.30" stroke="#a0a0a0" stroke-width="1.35" />
<line x1="401.70" y1="479.20" x2="401.70" y2="512.30" stroke="#a0a0a0" stroke-width="1.35" />
<polyline points="404.20,487.20 401.70,479.20 399.20,487.20" stroke="#a0a0a0" stroke-width="1.2" fill="none" />
<polyline points="399.20,504.30 401.70,512.30 404.20,504.30" stroke="#a0a0a0" stroke-width="1.2" fill="none" />
<text x="399.00" y="494.00" font-size="14.5" text-anchor="middle" fill="#979797" transform="rotate(-90 399.00 494.00)"  textLength="20" lengthAdjust="spacingAndGlyphs">100</text>
<line x1="441.30" y1="458.00" x2="441.30" y2="479.00" stroke="#a0a0a0" stroke-width="1.35" />
<line x1="493.30" y1="458.00" x2="493.30" y2="479.00" stroke="#a0a0a0" stroke-width="1.35" />
<line x1="441.30" y1="461.70" x2="493.30" y2="461.70" stroke="#a0a0a0" stroke-width="1.35" />
<polyline points="449.30,459.20 441.30,461.70 449.30,464.20" stroke="#a0a0a0" stroke-width="1.2" fill="none" />
<polyline points="485.30,464.20 493.30,461.70 485.30,459.20" stroke="#a0a0a0" stroke-width="1.2" fill="none" />
<text x="467.30" y="460.60" font-size="14.5" text-anchor="middle" fill="#979797"  textLength="44.6" lengthAdjust="spacingAndGlyphs">150±15</text>
<text x="532.90" y="460.30" font-size="14.5" text-anchor="middle" fill="#979797"  textLength="29.2" lengthAdjust="spacingAndGlyphs">G1/2</text>
<path d="M496,472.5 L508,462.7 L548,462.7" stroke="#8a8a8a" stroke-width="1" fill="none" />
<path d="M439,479.2 L439,473 Q439,470.5 442.5,470.5 Q446,470.5 446,473 L446,479.2" stroke="#777" stroke-width="1" fill="none" />
<rect x="436.00" y="479.20" width="21.00" height="6.80" rx="0" stroke="#5e5e5e" stroke-width="1" fill="#fff" />
<line x1="446.50" y1="479.20" x2="446.50" y2="486.00" stroke="#5e5e5e" stroke-width="1" />
<rect x="441.00" y="486.00" width="11.00" height="5.00" rx="0" stroke="#5e5e5e" stroke-width="1" fill="#fff" />
<line x1="444.70" y1="486.00" x2="444.70" y2="491.00" stroke="#5e5e5e" stroke-width="1" />
<line x1="448.30" y1="486.00" x2="448.30" y2="491.00" stroke="#5e5e5e" stroke-width="1" />
<path d="M490,479.2 L490,473 Q490,470.5 493.5,470.5 Q497,470.5 497,473 L497,479.2" stroke="#777" stroke-width="1" fill="none" />
<rect x="488.00" y="479.20" width="21.00" height="6.80" rx="0" stroke="#5e5e5e" stroke-width="1" fill="#fff" />
<line x1="498.50" y1="479.20" x2="498.50" y2="486.00" stroke="#5e5e5e" stroke-width="1" />
<rect x="493.00" y="486.00" width="11.00" height="5.00" rx="0" stroke="#5e5e5e" stroke-width="1" fill="#fff" />
<line x1="496.70" y1="486.00" x2="496.70" y2="491.00" stroke="#5e5e5e" stroke-width="1" />
<line x1="500.30" y1="486.00" x2="500.30" y2="491.00" stroke="#5e5e5e" stroke-width="1" />
<path d="M435,497 L441,497 L441,491 M452,491 L452,492.5 Q452.5,495 455,495 L488,495 Q490.5,495 491,492.5 L493,491 M504,491 L504,497 L508,497" stroke="#5e5e5e" stroke-width="1" fill="none" />
<line x1="420.00" y1="512.30" x2="524.00" y2="512.30" stroke="#5e5e5e" stroke-width="1" />
<rect x="420.00" y="497.00" width="15.00" height="15.30" rx="0" stroke="#5e5e5e" stroke-width="1" fill="#fff" />
<line x1="434.00" y1="497.00" x2="434.00" y2="512.30" stroke="#555" stroke-width="1.6" />
<rect x="508.00" y="497.00" width="16.00" height="15.30" rx="0" stroke="#5e5e5e" stroke-width="1" fill="#fff" />
<line x1="509.00" y1="497.00" x2="509.00" y2="512.30" stroke="#555" stroke-width="1.6" />
<rect x="424.00" y="503.20" width="6.00" height="2.80" rx="1.4" stroke="#5e5e5e" stroke-width="1" fill="none" />
<rect x="514.00" y="503.20" width="6.00" height="2.80" rx="1.4" stroke="#5e5e5e" stroke-width="1" fill="none" />
<circle cx="472.00" cy="505.00" r="6.30" stroke="#5e5e5e" stroke-width="1" fill="none" />
<line x1="466.00" y1="505.00" x2="478.00" y2="505.00" stroke="#5e5e5e" stroke-width="1" />
<line x1="472.00" y1="499.00" x2="472.00" y2="511.00" stroke="#5e5e5e" stroke-width="1" />
<line x1="420.00" y1="515.00" x2="420.00" y2="538.00" stroke="#a0a0a0" stroke-width="1.35" />
<line x1="524.00" y1="515.00" x2="524.00" y2="538.00" stroke="#a0a0a0" stroke-width="1.35" />
<line x1="420.00" y1="534.20" x2="524.00" y2="534.20" stroke="#a0a0a0" stroke-width="1.35" />
<polyline points="428.00,531.70 420.00,534.20 428.00,536.70" stroke="#a0a0a0" stroke-width="1.2" fill="none" />
<polyline points="516.00,536.70 524.00,534.20 516.00,531.70" stroke="#a0a0a0" stroke-width="1.2" fill="none" />
<text x="471.65" y="532.50" font-size="14.5" text-anchor="middle" fill="#979797"  textLength="21.7" lengthAdjust="spacingAndGlyphs">296</text>
<path d="M420,512.5 L403.3,534.1 L386.7,534.1" stroke="#8a8a8a" stroke-width="1" fill="none" />
<circle cx="375.50" cy="534.10" r="11.20" stroke="#8a8a8a" stroke-width="1" fill="none" />
<text x="375.50" y="538.70" font-size="13" text-anchor="middle" fill="#979797" >5</text>
<path d="M524,512.5 L541.7,534.4 L558.2,534.4" stroke="#8a8a8a" stroke-width="1" fill="none" />
<circle cx="569.50" cy="534.40" r="11.30" stroke="#8a8a8a" stroke-width="1" fill="none" />
<text x="569.50" y="539.00" font-size="13" text-anchor="middle" fill="#979797" >6</text>
</svg></body></html>
